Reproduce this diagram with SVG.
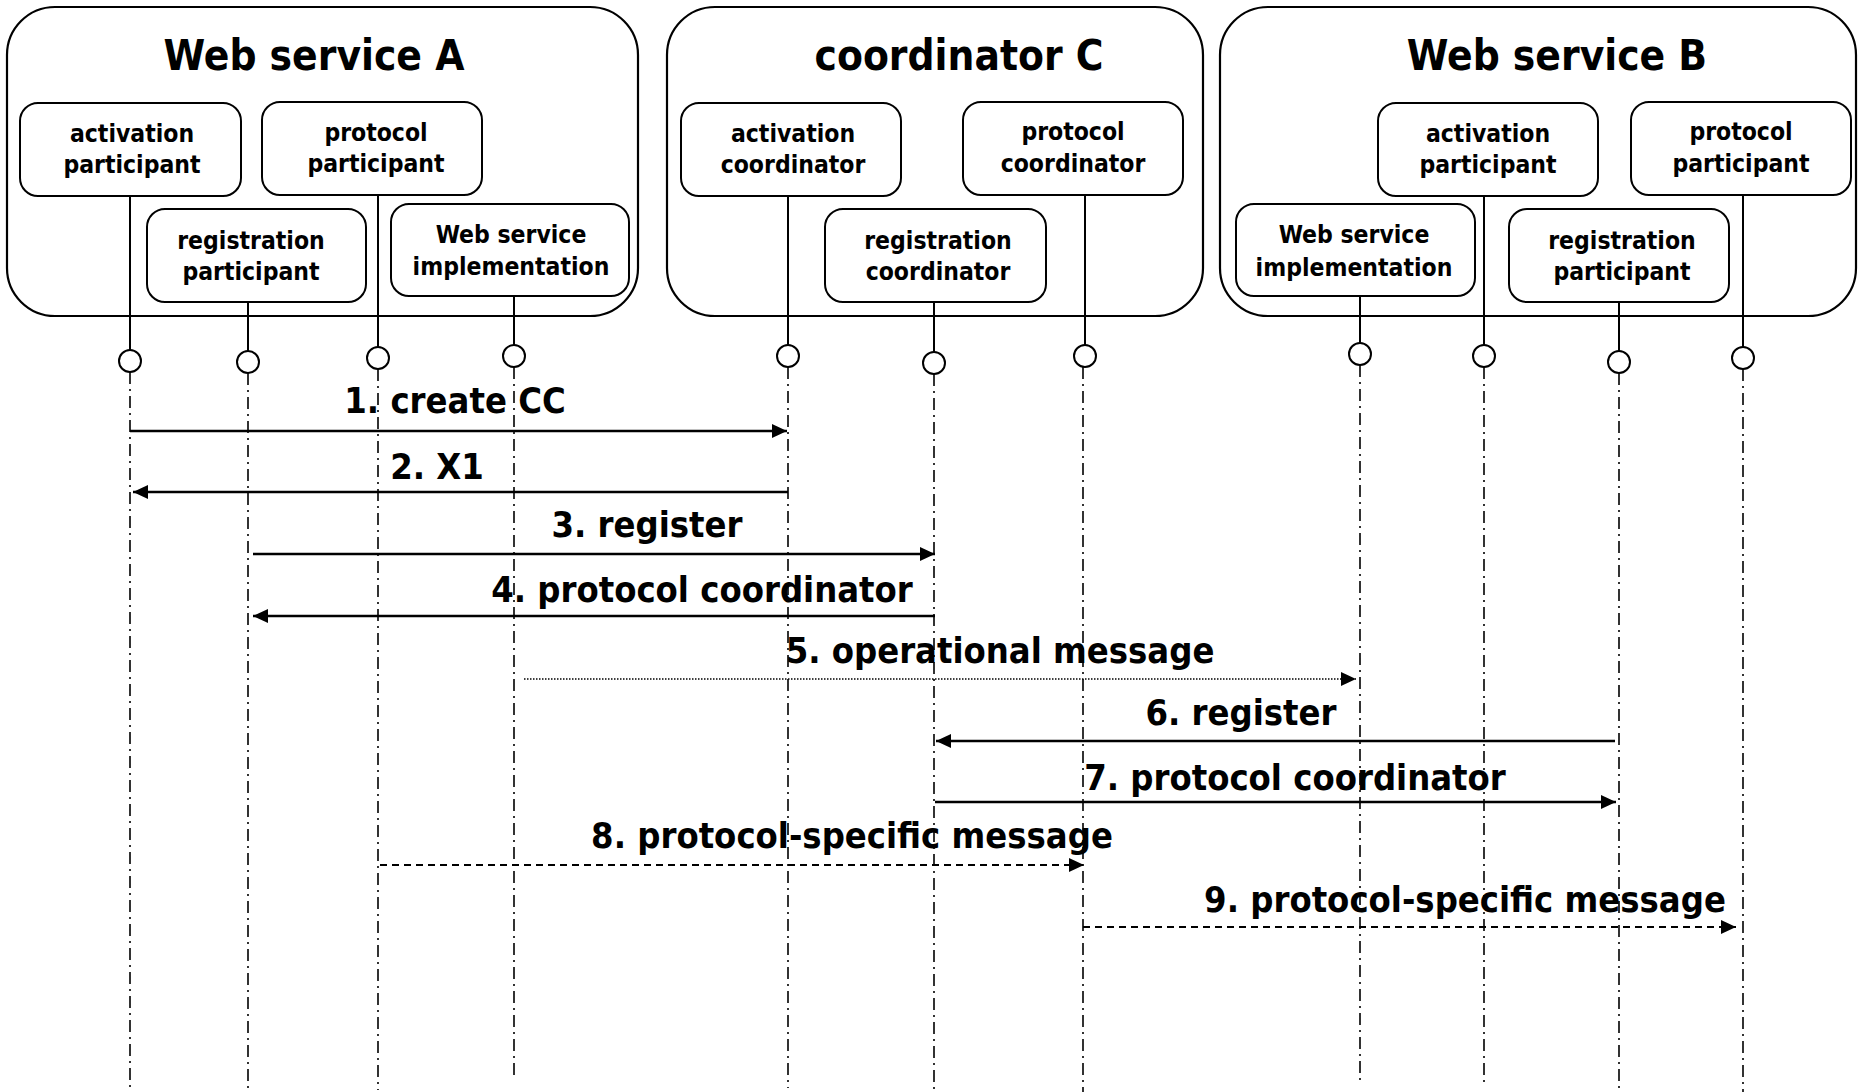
<svg xmlns="http://www.w3.org/2000/svg" width="1858" height="1092" viewBox="0 0 1858 1092">
<style>
.outer{fill:#fff;stroke:#000;stroke-width:2.2}
.box{fill:#fff;stroke:#000;stroke-width:2}
.t{font-family:"DejaVu Sans Condensed","DejaVu Sans",sans-serif;font-stretch:condensed;font-weight:bold;fill:#000;text-anchor:middle}
.title{font-size:42px}
.lbl{font-size:24.5px}
.msg{font-size:36px}
.stem{stroke:#000;stroke-width:2}
.port{fill:#fff;stroke:#000;stroke-width:2}
.life{stroke:#000;stroke-width:1.6;stroke-dasharray:12 5 2 5;fill:none}
.solid{stroke:#000;stroke-width:2.4;fill:none;marker-end:url(#ah)}
.dotted{stroke:#000;stroke-width:1.6;stroke-dasharray:1.5 1.5;fill:none;marker-end:url(#ah)}
.dashed{stroke:#000;stroke-width:2;stroke-dasharray:7 5;fill:none;marker-end:url(#ah)}
</style>
<defs>
<marker id="ah" viewBox="0 0 15 14" refX="15" refY="7" markerWidth="15" markerHeight="14" markerUnits="userSpaceOnUse" orient="auto">
<path d="M0,0 L15,7 L0,14 z" fill="#000"/>
</marker>
</defs>
<rect width="1858" height="1092" fill="#fff"/>

<g id="web-service-a">
<rect class="outer" x="7" y="7" width="631" height="309" rx="48"/>
<text class="t title" x="314" y="70">Web service A</text>
</g>
<g id="coordinator-c">
<rect class="outer" x="667" y="7" width="536" height="309" rx="48"/>
<text class="t title" x="959" y="70">coordinator C</text>
</g>
<g id="web-service-b">
<rect class="outer" x="1220" y="7" width="636" height="309" rx="48"/>
<text class="t title" x="1557" y="70">Web service B</text>
</g>

<g id="a-activation-participant">
<rect class="box" x="20" y="103" width="221" height="93" rx="18"/>
<text class="t lbl" x="132" y="142">activation</text>
<text class="t lbl" x="132" y="173">participant</text>
<line class="stem" x1="130" y1="196" x2="130" y2="350"/>
<circle class="port" cx="130" cy="361" r="11"/>
</g>
<g id="a-protocol-participant">
<rect class="box" x="262" y="102" width="220" height="93" rx="18"/>
<text class="t lbl" x="376" y="141">protocol</text>
<text class="t lbl" x="376" y="172">participant</text>
<line class="stem" x1="378" y1="195" x2="378" y2="347"/>
<circle class="port" cx="378" cy="358" r="11"/>
</g>
<g id="a-registration-participant">
<rect class="box" x="147" y="209" width="219" height="93" rx="18"/>
<text class="t lbl" x="251" y="249">registration</text>
<text class="t lbl" x="251" y="280">participant</text>
<line class="stem" x1="248" y1="302" x2="248" y2="351"/>
<circle class="port" cx="248" cy="362" r="11"/>
</g>
<g id="a-web-service-implementation">
<rect class="box" x="391" y="204" width="238" height="92" rx="18"/>
<text class="t lbl" x="511" y="243">Web service</text>
<text class="t lbl" x="511" y="275">implementation</text>
<line class="stem" x1="514" y1="296" x2="514" y2="345"/>
<circle class="port" cx="514" cy="356" r="11"/>
</g>

<g id="c-activation-coordinator">
<rect class="box" x="681" y="103" width="220" height="93" rx="18"/>
<text class="t lbl" x="793" y="142">activation</text>
<text class="t lbl" x="793" y="173">coordinator</text>
<line class="stem" x1="788" y1="196" x2="788" y2="345"/>
<circle class="port" cx="788" cy="356" r="11"/>
</g>
<g id="c-protocol-coordinator">
<rect class="box" x="963" y="102" width="220" height="93" rx="18"/>
<text class="t lbl" x="1073" y="140">protocol</text>
<text class="t lbl" x="1073" y="172">coordinator</text>
<line class="stem" x1="1085" y1="195" x2="1085" y2="345"/>
<circle class="port" cx="1085" cy="356" r="11"/>
</g>
<g id="c-registration-coordinator">
<rect class="box" x="825" y="209" width="221" height="93" rx="18"/>
<text class="t lbl" x="938" y="249">registration</text>
<text class="t lbl" x="938" y="280">coordinator</text>
<line class="stem" x1="934" y1="302" x2="934" y2="352"/>
<circle class="port" cx="934" cy="363" r="11"/>
</g>

<g id="b-activation-participant">
<rect class="box" x="1378" y="103" width="220" height="93" rx="18"/>
<text class="t lbl" x="1488" y="142">activation</text>
<text class="t lbl" x="1488" y="173">participant</text>
<line class="stem" x1="1484" y1="196" x2="1484" y2="345"/>
<circle class="port" cx="1484" cy="356" r="11"/>
</g>
<g id="b-protocol-participant">
<rect class="box" x="1631" y="102" width="220" height="93" rx="18"/>
<text class="t lbl" x="1741" y="140">protocol</text>
<text class="t lbl" x="1741" y="172">participant</text>
<line class="stem" x1="1743" y1="195" x2="1743" y2="347"/>
<circle class="port" cx="1743" cy="358" r="11"/>
</g>
<g id="b-web-service-implementation">
<rect class="box" x="1236" y="204" width="239" height="92" rx="18"/>
<text class="t lbl" x="1354" y="243">Web service</text>
<text class="t lbl" x="1354" y="276">implementation</text>
<line class="stem" x1="1360" y1="296" x2="1360" y2="343"/>
<circle class="port" cx="1360" cy="354" r="11"/>
</g>
<g id="b-registration-participant">
<rect class="box" x="1509" y="209" width="220" height="93" rx="18"/>
<text class="t lbl" x="1622" y="249">registration</text>
<text class="t lbl" x="1622" y="280">participant</text>
<line class="stem" x1="1619" y1="302" x2="1619" y2="351"/>
<circle class="port" cx="1619" cy="362" r="11"/>
</g>

<g id="lifelines">
<line class="life" x1="130" y1="372" x2="130" y2="1092"/>
<line class="life" x1="248" y1="373" x2="248" y2="1090"/>
<line class="life" x1="378" y1="369" x2="378" y2="1090"/>
<line class="life" x1="514" y1="367" x2="514" y2="1080"/>
<line class="life" x1="788" y1="367" x2="788" y2="1088"/>
<line class="life" x1="934" y1="374" x2="934" y2="1092"/>
<line class="life" x1="1083" y1="367" x2="1083" y2="1092"/>
<line class="life" x1="1360" y1="365" x2="1360" y2="1080"/>
<line class="life" x1="1484" y1="367" x2="1484" y2="1083"/>
<line class="life" x1="1619" y1="373" x2="1619" y2="1092"/>
<line class="life" x1="1743" y1="369" x2="1743" y2="1092"/>
</g>

<g id="connectors">
<line class="solid" x1="130" y1="431" x2="787" y2="431"/>
<line class="solid" x1="788" y1="492" x2="133" y2="492"/>
<line class="solid" x1="253" y1="554" x2="935" y2="554"/>
<line class="solid" x1="935" y1="616" x2="253" y2="616"/>
<line class="dotted" x1="524" y1="679" x2="1356" y2="679"/>
<line class="solid" x1="1615" y1="741" x2="936" y2="741"/>
<line class="solid" x1="935" y1="802" x2="1616" y2="802"/>
<line class="dashed" x1="380" y1="865" x2="1084" y2="865"/>
<line class="dashed" x1="1083" y1="927" x2="1736" y2="927"/>
</g>

<g id="message-labels">
<text class="t msg" x="455" y="413">1. create CC</text>
<text class="t msg" x="437" y="479">2. X1</text>
<text class="t msg" x="647" y="537">3. register</text>
<text class="t msg" x="702" y="602">4. protocol coordinator</text>
<text class="t msg" x="1000" y="663">5. operational message</text>
<text class="t msg" x="1241" y="725">6. register</text>
<text class="t msg" x="1295" y="790">7. protocol coordinator</text>
<text class="t msg" x="852" y="848">8. protocol-specific message</text>
<text class="t msg" x="1465" y="912">9. protocol-specific message</text>
</g>
</svg>
